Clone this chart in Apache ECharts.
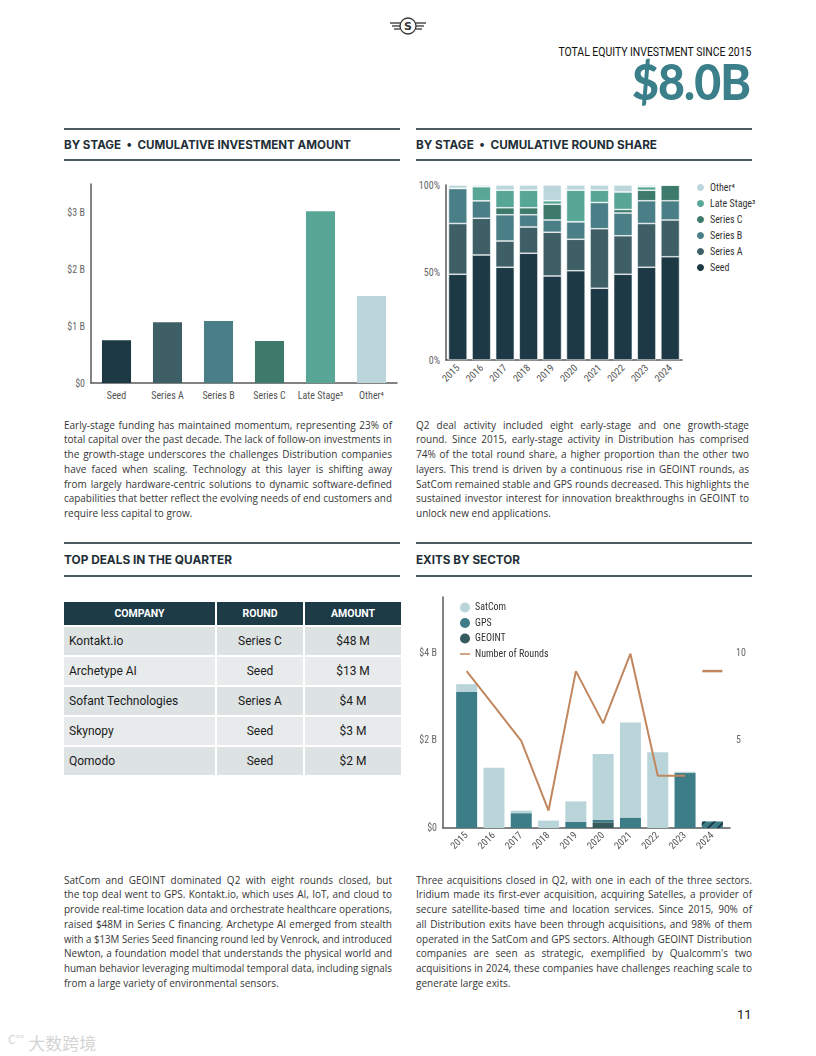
<!DOCTYPE html>
<html><head><meta charset="utf-8">
<script src="https://cdn.jsdelivr.net/npm/echarts/dist/echarts.min.js"></script>
<style>
html,body{margin:0;padding:0;background:#fff;}
#page{position:relative;width:816px;height:1056px;overflow:hidden;background:#fff;}
.abs{position:absolute;}
.rule{position:absolute;height:1.5px;background:#4b5a60;}
.h2{position:absolute;font-family:'Inter','Roboto',sans-serif;font-weight:700;font-size:12px;color:#1f2f38;white-space:nowrap;line-height:16px;transform-origin:left center;}
.para{position:absolute;font-family:'Open Sans',sans-serif;font-size:10px;line-height:14.8px;color:#363636;}
.para .ln{white-space:nowrap;transform-origin:left center;width:max-content;}
table{border-collapse:separate;border-spacing:2px;}
</style>
</head><body><div id="page">

<svg class="abs" style="left:388px;top:15px" width="40" height="22" viewBox="0 0 40 22">
  <g stroke="#333" fill="none" stroke-width="1.3">
    <circle cx="20" cy="11" r="8"/>
    <line x1="2" y1="8" x2="12" y2="8"/><line x1="4" y1="11" x2="12" y2="11"/><line x1="6" y1="14" x2="12" y2="14"/>
    <line x1="28" y1="8" x2="38" y2="8"/><line x1="28" y1="11" x2="36" y2="11"/><line x1="28" y1="14" x2="34" y2="14"/>
  </g>
  <text x="20" y="15" text-anchor="middle" font-family="DejaVu Sans" font-weight="bold" font-size="11" fill="#333">S</text>
</svg>

<div id="kpiLabel" class="abs" style="right:65px;top:46px;font-family:'Roboto',sans-serif;font-size:12.5px;color:#111;white-space:nowrap;transform-origin:right center;line-height:12px;">TOTAL EQUITY INVESTMENT SINCE 2015</div>
<div id="kpiValue" class="abs" style="right:66px;top:63px;font-family:'Lato','Open Sans',sans-serif;font-weight:900;font-size:50px;color:#3b7f8a;white-space:nowrap;transform-origin:right center;line-height:36px;letter-spacing:-1px;">$8.0B</div>

<div class="rule" style="left:64px;top:128px;width:336px"></div>
<div class="rule" style="left:64px;top:159px;width:336px"></div>
<div class="h2" id="h1" style="left:64px;top:137px">BY STAGE&nbsp;&nbsp;•&nbsp;&nbsp;CUMULATIVE INVESTMENT AMOUNT</div>
<div class="rule" style="left:416px;top:128px;width:336px"></div>
<div class="rule" style="left:416px;top:159px;width:336px"></div>
<div class="h2" id="h2" style="left:416px;top:137px">BY STAGE&nbsp;&nbsp;•&nbsp;&nbsp;CUMULATIVE ROUND SHARE</div>

<div id="c1" class="abs" style="left:60px;top:170px;width:345px;height:235px"></div>
<div id="c2" class="abs" style="left:410px;top:170px;width:350px;height:230px"></div>

<div class="para" id="p1" data-w="328" style="left:64px;top:417.5px;"></div>
<div class="para" id="p2" data-w="333" style="left:416px;top:417.5px;"></div>

<div class="rule" style="left:64px;top:542px;width:336px"></div>
<div class="rule" style="left:64px;top:575px;width:336px"></div>
<div class="h2" id="h3" style="left:64px;top:552px">TOP DEALS IN THE QUARTER</div>
<div class="rule" style="left:416px;top:542px;width:336px"></div>
<div class="rule" style="left:416px;top:575px;width:336px"></div>
<div class="h2" id="h4" style="left:416px;top:552px">EXITS BY SECTOR</div>

<div id="tbl" class="abs" style="left:62px;top:600px;"></div>
<div id="c3" class="abs" style="left:410px;top:590px;width:350px;height:275px"></div>

<div class="para" id="p3" data-w="328" style="left:64px;top:872.5px;"></div>
<div class="para" id="p4" data-w="336" style="left:416px;top:872.5px;"></div>

<div class="abs" style="left:737px;top:1007px;font-family:'Roboto',sans-serif;font-size:13px;color:#222;">11</div>
<div class="abs" style="left:8px;top:1030px;font-family:'Noto Sans CJK SC',sans-serif;font-size:17px;color:#d4d4d4;white-space:nowrap;"><span style="font-size:12px;vertical-align:top">C°°</span> 大数跨境</div>

</div>
<script>
// ---------- DATA ----------
const stageCategories = ['Seed', 'Series A', 'Series B', 'Series C', 'Late Stage³', 'Other⁴'];
const stageAmounts = [0.75, 1.07, 1.09, 0.74, 3.02, 1.53]; // $B cumulative

const shareYears = ['2015','2016','2017','2018','2019','2020','2021','2022','2023','2024'];
const seedShare    = [49, 60, 53, 61, 48, 51, 41, 49, 53, 59];
const seriesAShare = [29, 21, 15, 15, 25, 18, 34, 22, 25, 21];
const seriesBShare = [20, 10, 15,  7,  7, 10, 15, 13, 13, 11];
const seriesCShare = [ 0,  0,  4,  4,  9,  0,  0,  2,  6,  9];
const lateShare    = [ 0,  8, 10, 10,  2, 18,  7, 10,  2,  0];
const otherShare   = [ 2,  1,  3,  3,  9,  3,  3,  4,  1,  0];
const shareTicks = [0, 50, 100];

const exitYears = ['2015','2016','2017','2018','2019','2020','2021','2022','2023','2024'];
const satcomExits = [0.18, 1.38, 0.06, 0.17, 0.465, 1.51, 2.18, 1.74, 0.03, 0];
const gpsExits    = [3.12, 0, 0.34, 0, 0.145, 0.06, 0.24, 0, 1.26, 0.15];
const geointExits = [0, 0, 0, 0, 0, 0.13, 0, 0, 0, 0];
const roundsCount = [9, 7, 5, 1, 9, 6, 10, 3, 3, 9];

const dealCompanies = ['Kontakt.io', 'Archetype AI', 'Sofant Technologies', 'Skynopy', 'Qomodo'];
const dealRounds = ['Series C', 'Seed', 'Series A', 'Seed', 'Seed'];
const dealAmounts = ['$48 M', '$13 M', '$4 M', '$3 M', '$2 M'];
const tableHeaders = ['COMPANY', 'ROUND', 'AMOUNT'];

const paraText = {
  p1: ["Early-stage funding has maintained momentum, representing 23% of",
       "total capital over the past decade. The lack of follow-on investments in",
       "the growth-stage underscores the challenges Distribution companies",
       "have faced when scaling. Technology at this layer is shifting away",
       "from largely hardware-centric solutions to dynamic software-defined",
       "capabilities that better reflect the evolving needs of end customers and",
       "require less capital to grow."],
  p2: ["Q2 deal activity included eight early-stage and one growth-stage",
       "round. Since 2015, early-stage activity in Distribution has comprised",
       "74% of the total round share, a higher proportion than the other two",
       "layers. This trend is driven by a continuous rise in GEOINT rounds, as",
       "SatCom remained stable and GPS rounds decreased. This highlights the",
       "sustained investor interest for innovation breakthroughs in GEOINT to",
       "unlock new end applications."],
  p3: ["SatCom and GEOINT dominated Q2 with eight rounds closed, but",
       "the top deal went to GPS. Kontakt.io, which uses AI, IoT, and cloud to",
       "provide real-time location data and orchestrate healthcare operations,",
       "raised $48M in Series C financing. Archetype AI emerged from stealth",
       "with a $13M Series Seed financing round led by Venrock, and introduced",
       "Newton, a foundation model that understands the physical world and",
       "human behavior leveraging multimodal temporal data, including signals",
       "from a large variety of environmental sensors."],
  p4: ["Three acquisitions closed in Q2, with one in each of the three sectors.",
       "Iridium made its first-ever acquisition, acquiring Satelles, a provider of",
       "secure satellite-based time and location services. Since 2015, 90% of",
       "all Distribution exits have been through acquisitions, and 98% of them",
       "operated in the SatCom and GPS sectors. Although GEOINT Distribution",
       "companies are seen as strategic, exemplified by Qualcomm's two",
       "acquisitions in 2024, these companies have challenges reaching scale to",
       "generate large exits."]
};

// ---------- STYLE ----------
const COND = "'Roboto Condensed','Liberation Sans Narrow','DejaVu Sans Condensed','Roboto',sans-serif";
const C_SEED = '#1c3945', C_A = '#3f5f67', C_B = '#4a7f87', C_C = '#3e7a6c', C_LATE = '#58a696', C_OTHER = '#bcd7db';
const stageColors = [C_SEED, C_A, C_B, C_C, C_LATE, C_OTHER];
const AXIS = '#5a5a5a';

function fitWidth(id, target) {
  const el = document.getElementById(id);
  const w = el.getBoundingClientRect().width;
  el.style.transform = 'scaleX(' + (target / w) + ')';
}
fitWidth('kpiLabel', 193);
fitWidth('kpiValue', 118);
fitWidth('h1', 287);
fitWidth('h2', 241);
fitWidth('h3', 168);
fitWidth('h4', 104);

// justified paragraphs with the reference's line breaks
Object.keys(paraText).forEach(id => {
  const box = document.getElementById(id);
  const target = +box.dataset.w;
  const lines = paraText[id];
  lines.forEach((t, i) => {
    const d = document.createElement('div');
    d.className = 'ln';
    d.textContent = t;
    box.appendChild(d);
    if (i === lines.length - 1) return;
    const w = d.getBoundingClientRect().width;
    const spaces = (t.match(/ /g) || []).length;
    if (w < target && spaces) d.style.wordSpacing = ((target - w) / spaces) + 'px';
    else if (w > target) d.style.transform = 'scaleX(' + (target / w) + ')';
  });
});

// ---------- TABLE ----------
(function(){
  const colW = [151, 86, 96];
  let html = '<table><tr>';
  tableHeaders.forEach((h, i) => {
    html += `<td style="width:${colW[i]}px;height:23px;background:#1d3a47;color:#fff;font:700 10.5px 'Roboto',sans-serif;text-align:center;padding:0">${h}</td>`;
  });
  html += '</tr>';
  dealCompanies.forEach((c, r) => {
    const bg = r % 2 === 0 ? '#dde2e3' : '#e8ebec';
    const st = `height:28px;background:${bg};color:#1b1b1b;font:400 12px 'Roboto',sans-serif;padding:0;`;
    html += `<tr><td style="${st}padding-left:5px;text-align:left">${c}</td>` +
            `<td style="${st}text-align:center">${dealRounds[r]}</td>` +
            `<td style="${st}text-align:center">${dealAmounts[r]}</td></tr>`;
  });
  html += '</table>';
  document.getElementById('tbl').innerHTML = html;
})();

const bFmt = v => v === 0 ? '$0' : ('$' + v + ' B');

// ---------- CHART 1 ----------
echarts.init(document.getElementById('c1'), null, {renderer:'svg'}).setOption({
  animation: false,
  grid: {left: 31, top: 14, width: 306, height: 199},
  xAxis: {type: 'category', data: stageCategories,
    axisLine: {lineStyle: {color: AXIS, width: 1.5}}, axisTick: {show: false},
    axisLabel: {interval: 0, color: '#555', fontSize: 10, fontFamily: COND, margin: 7}},
  yAxis: {type: 'value', min: 0, max: 3.5, interval: 1,
    axisLine: {show: true, lineStyle: {color: AXIS, width: 1.5}}, splitLine: {show: false},
    axisLabel: {formatter: bFmt, showMaxLabel: false, color: '#666', fontSize: 10, fontFamily: COND, margin: 6}},
  series: [{type: 'bar', barCategoryGap: '43%',
    data: stageAmounts.map((v, i) => ({value: v, itemStyle: {color: stageColors[i]}}))}]
});

// ---------- CHART 2 ----------
const shareSeries = [
  ['Seed', seedShare, C_SEED], ['Series A', seriesAShare, C_A], ['Series B', seriesBShare, C_B],
  ['Series C', seriesCShare, C_C], ['Late Stage³', lateShare, C_LATE], ['Other⁴', otherShare, C_OTHER]
];
echarts.init(document.getElementById('c2'), null, {renderer:'svg'}).setOption({
  animation: false,
  grid: {left: 36, top: 15, width: 236, height: 175},
  legend: {orient: 'vertical', left: 280, top: 7, itemWidth: 9, itemHeight: 9, itemGap: 5, icon: 'circle',
    textStyle: {color: '#333', fontSize: 10, fontFamily: COND, lineHeight: 10},
    data: ['Other⁴', 'Late Stage³', 'Series C', 'Series B', 'Series A', 'Seed']},
  xAxis: {type: 'category', data: shareYears,
    axisLine: {lineStyle: {color: AXIS, width: 1.5}}, axisTick: {show: false},
    axisLabel: {interval: 0, color: '#555', fontSize: 10, fontFamily: COND, rotate: 45, margin: 6}},
  yAxis: {type: 'value', min: shareTicks[0], max: shareTicks[2], interval: shareTicks[1],
    axisLine: {show: true, lineStyle: {color: AXIS, width: 1.5}}, splitLine: {show: false},
    axisLabel: {formatter: '{value}%', color: '#666', fontSize: 10, fontFamily: COND, margin: 6}},
  series: shareSeries.map(([name, d, col]) => ({
    name, type: 'bar', stack: 'share', data: d, barCategoryGap: '21%',
    itemStyle: {color: col, borderColor: '#fff', borderWidth: 0.6}
  }))
});

// ---------- CHART 3 ----------
const C_SAT = '#b9d5da', C_GPS = '#3d7d87', C_GEO = '#36595e', C_LINE = '#c1875f';
const roundsLine = roundsCount.map((v, i) => i < roundsCount.length - 1 ? v : null);
const roundsLatest = roundsCount.map((v, i) => i === roundsCount.length - 1 ? v : null);
const LINE_ICON = 'path://M0,0L0.01,0L0,0.01ZM0,4.2L10,4.2L10,5.8L0,5.8ZM10,10L9.99,10L10,9.99Z';
echarts.init(document.getElementById('c3'), null, {renderer:'canvas'}).setOption({
  animation: false,
  grid: [{left: 43, top: 7, width: 273, height: 231},
         {left: 33, top: 7, width: 287, height: 231}],
  legend: {orient: 'vertical', left: 45, top: 7.5, itemWidth: 10, itemHeight: 10, itemGap: 5.5,
    textStyle: {color: '#333', fontSize: 10, fontFamily: COND, lineHeight: 10},
    data: [{name: 'SatCom', icon: 'circle'}, {name: 'GPS', icon: 'circle'}, {name: 'GEOINT', icon: 'circle'},
           {name: 'Number of Rounds', icon: LINE_ICON}]},
  xAxis: [
    {type: 'category', data: exitYears, gridIndex: 0,
      axisLine: {show: false}, axisTick: {show: false},
      axisLabel: {interval: 0, color: '#555', fontSize: 10, fontFamily: COND, rotate: 45, margin: 6}},
    {type: 'value', gridIndex: 1, min: 0, max: 1, axisLine: {show: true, onZero: false, lineStyle: {color: AXIS, width: 1.5}},
      axisTick: {show: false}, axisLabel: {show: false}, splitLine: {show: false}}
  ],
  yAxis: [
    {type: 'value', min: 0, max: 5.3, interval: 2, offset: 10, gridIndex: 0,
      axisLine: {show: true, lineStyle: {color: AXIS, width: 1.5}}, splitLine: {show: false},
      axisLabel: {formatter: bFmt, showMaxLabel: false, color: '#666', fontSize: 10, fontFamily: COND, margin: 6}},
    {type: 'value', min: 0, max: 13.25, interval: 5, position: 'right', gridIndex: 0,
      axisLine: {show: false}, splitLine: {show: false}, axisTick: {show: false},
      axisLabel: {showMinLabel: false, showMaxLabel: false, color: '#666', fontSize: 10, fontFamily: COND, margin: 10}},
    {type: 'value', gridIndex: 1, show: false, min: 0, max: 1}
  ],
  series: [
    {name: 'GEOINT', type: 'bar', stack: 'exits', data: geointExits, barCategoryGap: '23%', itemStyle: {color: C_GEO}},
    {name: 'GPS', type: 'bar', stack: 'exits', itemStyle: {color: C_GPS},
      data: gpsExits.map((v, i) => i === gpsExits.length - 1 ? {value: v, itemStyle: {color: C_GPS,
        decal: {symbol: 'rect', symbolSize: 1, color: '#1c3945', dashArrayX: [1, 0], dashArrayY: [1.5, 5], rotation: -Math.PI / 4}}} : v)},
    {name: 'SatCom', type: 'bar', stack: 'exits', data: satcomExits, itemStyle: {color: C_SAT}},
    {name: 'Number of Rounds', type: 'line', yAxisIndex: 1, data: roundsLine, symbol: 'none',
      lineStyle: {color: C_LINE, width: 2}, itemStyle: {color: C_LINE}, z: 5},
    {name: 'latest', type: 'line', yAxisIndex: 1, data: roundsLatest, symbol: 'rect', symbolSize: [20, 2.5],
      showSymbol: true, itemStyle: {color: C_LINE}, lineStyle: {width: 0}, z: 6}
  ]
});
</script>
</body></html>
